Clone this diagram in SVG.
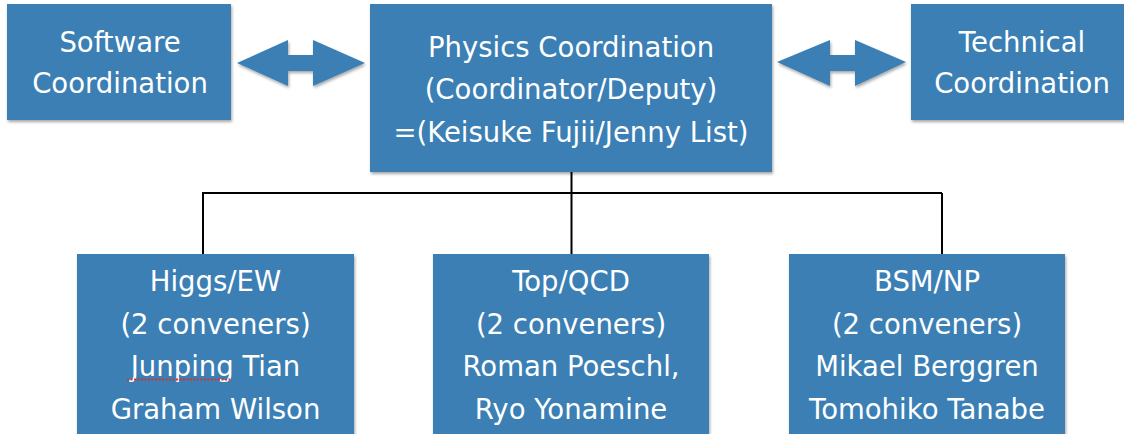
<svg xmlns="http://www.w3.org/2000/svg" width="1124" height="434" viewBox="0 0 1124 434">
<defs>
<filter id="sh" x="-5%" y="-5%" width="110%" height="115%">
<feDropShadow dx="1" dy="2" stdDeviation="1.5" flood-color="#000" flood-opacity="0.35"/>
</filter>
<style>
.box{fill:#3a7fb4;filter:url(#sh);}
.t{font-family:"DejaVu Sans","Noto Sans",sans-serif;font-size:27.5px;fill:#ffffff;text-anchor:middle;}
.ln{stroke:#000;stroke-width:2;fill:none;}
.arr{fill:#3a7fb4;filter:url(#sh);}
</style>
</defs>
<rect width="1124" height="434" fill="#ffffff"/>
<g id="connectors">
<path class="ln" d="M203,193 H942 M203,192 V254 M571.5,172 V254 M942,193 V254"/>
<polygon class="arr" points="237,63 288,40 288,55 313,55 313,40 365,63 313,86 313,71 288,71 288,86"/>
<polygon class="arr" points="777,62 830,40 830,55 855,55 855,40 906,62 855,86 855,71 830,71 830,86"/>
</g>
<g id="software">
<rect class="box" x="7" y="4" width="224" height="116"/>
<text class="t" x="120" y="52">Software</text>
<text class="t" x="120" y="93">Coordination</text>
</g>
<g id="physics">
<rect class="box" x="370" y="4" width="402" height="168"/>
<text class="t" x="571" y="57">Physics Coordination</text>
<text class="t" x="571" y="99">(Coordinator/Deputy)</text>
<text class="t" x="571" y="142">=(Keisuke Fujii/Jenny List)</text>
</g>
<g id="technical">
<rect class="box" x="911" y="4" width="220" height="116"/>
<text class="t" x="1022" y="52">Technical</text>
<text class="t" x="1022" y="93">Coordination</text>
</g>
<g id="higgs">
<rect class="box" x="77" y="254" width="277" height="190"/>
<text class="t" x="215.5" y="291">Higgs/EW</text>
<text class="t" x="215.5" y="334">(2 conveners)</text>
<text class="t" x="215.5" y="376">Junping Tian</text>
<text class="t" x="215.5" y="419">Graham Wilson</text>
<line x1="127" y1="379.5" x2="230" y2="379.5" stroke="#d0342c" stroke-width="2" stroke-dasharray="2,1.5"/>
</g>
<g id="topqcd">
<rect class="box" x="433" y="254" width="276" height="190"/>
<text class="t" x="571" y="291">Top/QCD</text>
<text class="t" x="571" y="334">(2 conveners)</text>
<text class="t" x="571" y="376">Roman Poeschl,</text>
<text class="t" x="571" y="419">Ryo Yonamine</text>
</g>
<g id="bsm">
<rect class="box" x="789" y="254" width="276" height="190"/>
<text class="t" x="927" y="291">BSM/NP</text>
<text class="t" x="927" y="334">(2 conveners)</text>
<text class="t" x="927" y="376">Mikael Berggren</text>
<text class="t" x="927" y="419">Tomohiko Tanabe</text>
</g>
</svg>
